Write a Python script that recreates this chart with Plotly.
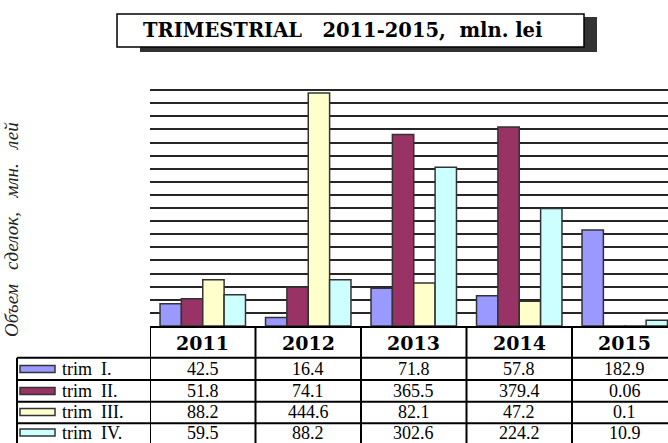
import plotly.graph_objects as go

# ---- data ----
years = ["2011", "2012", "2013", "2014", "2015"]
series_names = ["trim\u00a0\u00a0I.", "trim\u00a0\u00a0II.", "trim\u00a0\u00a0III.", "trim\u00a0\u00a0IV."]
trim1 = [42.5, 16.4, 71.8, 57.8, 182.9]
trim2 = [51.8, 74.1, 365.5, 379.4, 0.06]
trim3 = [88.2, 444.6, 82.1, 47.2, 0.1]
trim4 = [59.5, 88.2, 302.6, 224.2, 10.9]
value_labels = [
    ["42.5", "16.4", "71.8", "57.8", "182.9"],
    ["51.8", "74.1", "365.5", "379.4", "0.06"],
    ["88.2", "444.6", "82.1", "47.2", "0.1"],
    ["59.5", "88.2", "302.6", "224.2", "10.9"],
]
colors = ["#9999FF", "#993366", "#FFFFCC", "#CCFFFF"]
title_text = "TRIMESTRIAL\u00a0\u00a0\u00a02011-2015,\u00a0 mln. lei"
ytitle = "Объем\u00a0\u00a0 сделок,\u00a0\u00a0 млн.\u00a0\u00a0 лей"

SERIF = "Times New Roman, Liberation Serif, serif"
BOLD = "DejaVu Serif, serif"

W, H = 668, 443
L, R, T, B = 150, 0, 77, 117
PW = W - L - R
PH = H - T - B


def px(x):
    return (x - L) / PW


def py(y):
    return (H - B - y) / PH


fig = go.Figure()
for name, vals, c in zip(series_names, [trim1, trim2, trim3, trim4], colors):
    fig.add_trace(go.Bar(x=years, y=vals, name=name,
                         marker=dict(color=c, line=dict(color="#333333", width=1.5)),
                         showlegend=False))

shapes = []
annotations = []

# title shadow and box
shapes.append(dict(type="rect", xref="paper", yref="paper",
                   x0=px(140), x1=px(597), y0=py(17), y1=py(52),
                   fillcolor="#333333", line=dict(width=0)))
shapes.append(dict(type="rect", xref="paper", yref="paper",
                   x0=px(117), x1=px(584), y0=py(14), y1=py(47),
                   fillcolor="white", line=dict(color="black", width=1.5)))
annotations.append(dict(text=title_text, xref="paper", yref="paper",
                        x=px(342), y=py(31), showarrow=False,
                        xanchor="center", yanchor="middle",
                        font=dict(family=BOLD, size=19.5, color="black", weight="bold")))

# y-axis title
annotations.append(dict(text=ytitle, xref="paper", yref="paper",
                        x=px(11), y=py(230), showarrow=False, textangle=-90,
                        xanchor="center", yanchor="middle",
                        font=dict(family=SERIF, size=19, color="#222222", style="italic")))

# table lines
row_lines = [357.7, 380, 401.7, 423.3, 445]
table_bottom = 446
lw = 2
for i in range(len(years) + 1):
    shapes.append(dict(type="line", xref="x", yref="paper",
                       x0=i - 0.5, x1=i - 0.5, y0=py(328), y1=py(table_bottom),
                       line=dict(color="black", width=lw)))
shapes.append(dict(type="line", xref="paper", yref="paper",
                   x0=px(17), x1=px(17), y0=py(row_lines[0]), y1=py(table_bottom),
                   line=dict(color="black", width=lw)))
for yl in row_lines:
    shapes.append(dict(type="line", xref="paper", yref="paper",
                       x0=px(17), x1=px(700), y0=py(yl), y1=py(yl),
                       line=dict(color="black", width=lw)))

# header years (category index positions on the x axis)
for i, yr in enumerate(years):
    annotations.append(dict(text=yr, xref="x", yref="paper", x=i, y=py(343),
                            showarrow=False, xanchor="center", yanchor="middle",
                            font=dict(family=BOLD, size=19, color="black", weight="bold")))

# rows
row_centers = [369, 391, 412, 432.5]
for r, (name, c) in enumerate(zip(series_names, colors)):
    yc = row_centers[r]
    shapes.append(dict(type="rect", xref="paper", yref="paper",
                       x0=px(20), x1=px(55), y0=py(yc - 3.5), y1=py(yc + 3.5),
                       fillcolor=c, line=dict(color="#333333", width=1.5)))
    annotations.append(dict(text=name, xref="paper", yref="paper",
                            x=px(60), y=py(yc), showarrow=False,
                            xanchor="left", yanchor="middle",
                            font=dict(family=SERIF, size=18, color="black")))
    for i, lab in enumerate(value_labels[r]):
        annotations.append(dict(text=lab, xref="x", yref="paper", x=i, y=py(yc),
                                showarrow=False, xanchor="center", yanchor="middle",
                                font=dict(family=SERIF, size=18, color="black")))

cat_w = 105.5
fig.update_layout(
    width=W, height=H,
    margin=dict(l=L, r=R, t=T, b=B),
    paper_bgcolor="white", plot_bgcolor="white",
    barmode="group", bargap=0.19, bargroupgap=0,
    shapes=shapes, annotations=annotations,
    xaxis=dict(type="category", range=[-0.5, -0.5 + PW / cat_w],
               showticklabels=False, ticks="", showgrid=False,
               showline=True, linecolor="black", linewidth=2, zeroline=False),
    yaxis=dict(range=[0, 475], dtick=25, showticklabels=False, ticks="",
               showgrid=True, gridcolor="#262626", gridwidth=2,
               showline=False, zeroline=False),
)

fig.write_html("out.html", config={"displayModeBar": False},
               post_script="document.body.style.margin='0';document.body.style.overflow='hidden';")
